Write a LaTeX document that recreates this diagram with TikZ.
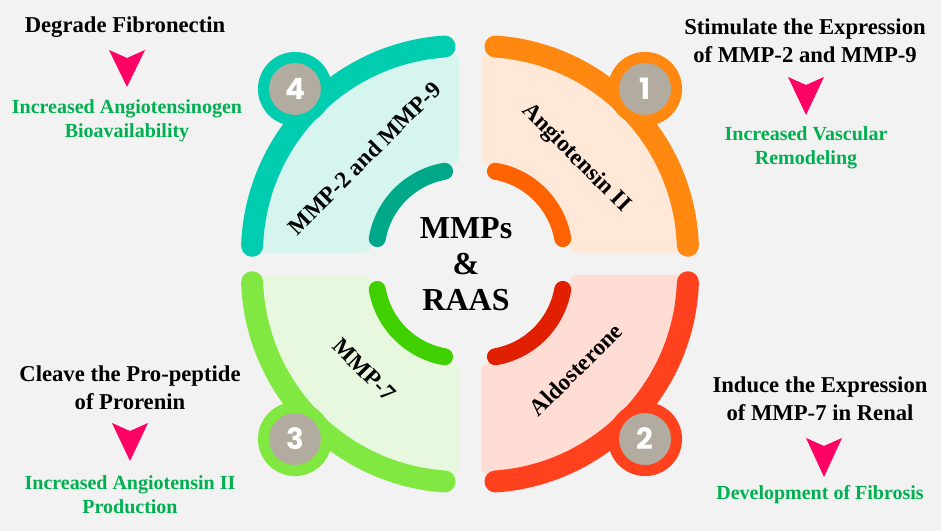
\documentclass[tikz,border=0pt]{standalone}
\usepackage{fontspec}
\setmainfont{Liberation Serif}
\newfontfamily\numfont{Poppins}
\usepackage{xcolor}
\usepackage{tikz}
\usetikzlibrary{positioning}

\definecolor{bgGray}{RGB}{242,242,242}
\definecolor{outerTeal}{RGB}{0,204,176}
\definecolor{fillTeal}{RGB}{214,245,238}
\definecolor{innerTeal}{RGB}{0,168,138}
\definecolor{outerOrange}{RGB}{255,136,16}
\definecolor{fillOrange}{RGB}{255,232,216}
\definecolor{innerOrange}{RGB}{255,98,0}
\definecolor{outerRed}{RGB}{255,65,30}
\definecolor{fillRed}{RGB}{255,220,212}
\definecolor{innerRed}{RGB}{224,32,0}
\definecolor{outerGreen}{RGB}{128,232,64}
\definecolor{fillGreen}{RGB}{232,248,222}
\definecolor{innerGreen}{RGB}{64,208,0}
\definecolor{badgeGray}{RGB}{178,172,160}
\definecolor{outGreen}{RGB}{0,176,80}
\definecolor{arrowPink}{RGB}{255,0,100}

\tikzset{
  outerarc/.style={line width=16.5pt, line cap=round},
  innerarc/.style={line width=12.75pt, line cap=round},
  badge/.style={circle, fill=badgeGray, line width=8.25pt, minimum size=47.25pt,
    inner sep=0pt, text=white, font=\numfont\fontsize{22}{22}\selectfont\bfseries},
  qlabel/.style={inner sep=0.75pt, font=\fontsize{17.5}{20}\selectfont\bfseries},
  effect/.style={inner sep=0.75pt, align=center, font=\fontsize{17}{21}\selectfont\bfseries},
  outcome/.style={inner sep=0.75pt, align=center, text=outGreen,
    font=\fontsize{15}{18}\selectfont\bfseries},
  chevron/.style={fill=arrowPink}
}

\begin{document}
\begin{tikzpicture}[x=0.75pt,y=0.75pt,yscale=-1,xscale=1]
\useasboundingbox (0,0) rectangle (941,531);
\fill[bgGray] (0,0) rectangle (941,531);

%Quadrant 4 (top left)
\begin{scope}[shift={(459,253)}]
\fill[fillTeal, rounded corners=6] (180:200) arc (180:270:200) -- (270:88) arc (270:180:88) -- cycle;
\draw[innerarc, innerTeal] (190:83) arc (190:260:83);
\draw[outerarc, outerTeal] (182:207) arc (182:266:207);
\node[badge, draw=outerTeal] (n4) at (225:232) {4};
\node[qlabel, rotate=45] (q4) at (225:134) {MMP-2 and MMP-9};
\end{scope}

%Quadrant 1 (top right)
\begin{scope}[shift={(481,253)}]
\fill[fillOrange, rounded corners=6] (270:200) arc (270:360:200) -- (0:88) arc (360:270:88) -- cycle;
\draw[innerarc, innerOrange] (280:83) arc (280:350:83);
\draw[outerarc, outerOrange] (274:207) arc (274:358:207);
\node[badge, draw=outerOrange] (n1) at (315:232) {1};
\node[qlabel, rotate=-45] (q1) at (315:134) {Angiotensin II};
\end{scope}

%Quadrant 2 (bottom right)
\begin{scope}[shift={(481,275)}]
\fill[fillRed, rounded corners=6] (0:200) arc (0:90:200) -- (90:88) arc (90:0:88) -- cycle;
\draw[innerarc, innerRed] (10:83) arc (10:80:83);
\draw[outerarc, outerRed] (2:207) arc (2:86:207);
\node[badge, draw=outerRed] (n2) at (45:232) {2};
\node[qlabel, rotate=45] (q2) at (45:134) {Aldosterone};
\end{scope}

%Quadrant 3 (bottom left)
\begin{scope}[shift={(459,275)}]
\fill[fillGreen, rounded corners=6] (90:200) arc (90:180:200) -- (180:88) arc (180:90:88) -- cycle;
\draw[innerarc, innerGreen] (100:83) arc (100:170:83);
\draw[outerarc, outerGreen] (94:207) arc (94:178:207);
\node[badge, draw=outerGreen] (n3) at (135:232) {3};
\node[qlabel, rotate=-45] (q3) at (135:134) {MMP-7};
\end{scope}

% Centre title
\node[inner sep=0.75pt, align=center, font=\fontsize{24}{27}\selectfont\bfseries] (title) at (466,264) {MMPs\\\&\\RAAS};

% Text Node 4
\node[effect] (s4) at (125,27) {Degrade Fibronectin};
\fill[chevron] (109,50) -- (127,58) -- (145,50) -- (127,87) -- cycle;
\node[outcome] (o4) at (127,121) {Increased Angiotensinogen\\Bioavailability};

% Text Node 1
\node[effect] (s1) at (805,41) {Stimulate the Expression\\of MMP-2 and MMP-9};
\fill[chevron] (788,77) -- (806,85) -- (824,77) -- (806,115) -- cycle;
\node[outcome] (o1) at (806,148) {Increased Vascular\\Remodeling};

% Text Node 3
\node[effect] (s3) at (130,388) {Cleave the Pro-peptide\\of Prorenin};
\fill[chevron] (112,423) -- (130,431) -- (148,423) -- (130,461) -- cycle;
\node[outcome] (o3) at (130,495) {Increased Angiotensin II\\Production};

% Text Node 2
\node[effect] (s2) at (820,399) {Induce the Expression\\of MMP-7 in Renal};
\fill[chevron] (806,438) -- (824,446) -- (842,438) -- (824,477) -- cycle;
\node[outcome] (o2) at (820,495) {Development of Fibrosis};

\end{tikzpicture}
\end{document}
